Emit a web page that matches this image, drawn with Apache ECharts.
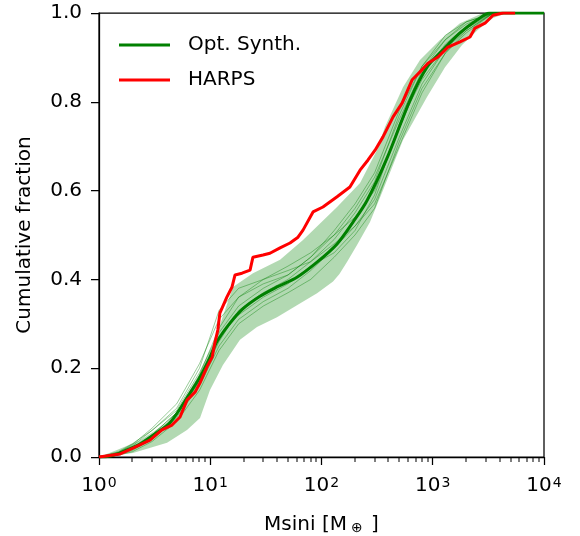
<!DOCTYPE html>
<html><head><meta charset="utf-8">
<script src="https://cdn.jsdelivr.net/npm/echarts@6/dist/echarts.min.js"></script>
<style>html,body{margin:0;padding:0;background:#fff}#c{width:580px;height:536px}</style>
</head><body><div id="c"></div>
<script>
// HARPS cumulative fraction [Msini (M_earth), fraction]
const harps = [[1,0],[1.55,0.007],[2.02,0.02],[2.87,0.038],[3.68,0.061],[4.53,0.072],[5.35,0.09],[6.18,0.128],[7.29,0.146],[8.09,0.167],[9.35,0.203],[10.4,0.225],[11.0,0.257],[11.7,0.286],[12.2,0.324],[14.1,0.36],[15.7,0.383],[16.7,0.41],[19.3,0.414],[22.8,0.421],[24.2,0.45],[29.8,0.455],[34.4,0.459],[42.4,0.471],[52.1,0.482],[61.5,0.495],[68.2,0.511],[83.9,0.552],[103,0.563],[138,0.586],[180,0.608],[222,0.646],[262,0.669],[303,0.691],[357,0.721],[440,0.766],[530,0.797],[651,0.849],[800,0.872],[906,0.887],[1115,0.901],[1371,0.923],[1758,0.935],[2163,0.946],[2399,0.966],[2951,0.977],[3481,0.995],[4280,1],[5500,1]];
// Opt. Synth. mean curve
const synthMean = [[1,0],[1.26,0.002],[1.71,0.014],[2.34,0.029],[3.19,0.052],[4.35,0.077],[6.58,0.144],[8.09,0.18],[9.95,0.225],[11.5,0.26],[15.1,0.302],[19.7,0.334],[28.0,0.362],[39.8,0.383],[60.2,0.405],[91.2,0.439],[138,0.48],[192,0.529],[256,0.577],[388,0.673],[625,0.804],[888,0.878],[1236,0.917],[1758,0.955],[2500,0.984],[3270,1],[10000,1]];
// band upper / lower bounds
const bandUpper = [[1,0],[1.45,0.016],[2.34,0.038],[4.09,0.077],[6.18,0.128],[8.09,0.189],[10.6,0.252],[16.0,0.383],[24.2,0.414],[42.4,0.444],[68.2,0.489],[138,0.563],[222,0.617],[315,0.691],[372,0.743],[540,0.833],[768,0.894],[1161,0.939],[1758,0.977],[2830,1],[10000,1]];
const bandLower = [[1,0],[2.02,0.009],[4.09,0.032],[6.18,0.061],[8.09,0.088],[9.95,0.151],[13.0,0.207],[18.5,0.264],[26.3,0.293],[39.8,0.315],[60.2,0.342],[91.2,0.369],[127,0.395],[145,0.412],[170,0.44],[208,0.477],[273,0.529],[357,0.601],[540,0.714],[888,0.811],[1289,0.878],[1833,0.928],[2552,0.962],[3481,0.989],[4649,1],[10000,1]];
// individual synthetic populations (thin lines), sampled at these masses
const thinMass = [1,1.5,2,3,5,8,12,18,30,50,80,130,200,300,500,800,1300,2000,3500,10000];
const thin1 = [0,0.01,0.028,0.065,0.12,0.21,0.31,0.36,0.39,0.41,0.45,0.50,0.56,0.63,0.76,0.87,0.94,0.98,1,1];
const thin2 = [0,0.005,0.015,0.04,0.09,0.16,0.25,0.31,0.35,0.38,0.42,0.47,0.52,0.58,0.72,0.84,0.92,0.96,1,1];
const thin3 = [0,0.01,0.025,0.06,0.11,0.2,0.33,0.38,0.40,0.42,0.44,0.49,0.55,0.62,0.77,0.88,0.95,0.98,1,1];
const thin4 = [0,0.006,0.02,0.045,0.095,0.17,0.26,0.33,0.37,0.40,0.44,0.48,0.52,0.57,0.70,0.82,0.91,0.96,1,1];
const thin5 = [0,0.012,0.03,0.06,0.105,0.19,0.28,0.34,0.38,0.41,0.45,0.51,0.57,0.64,0.78,0.88,0.94,0.975,1,1];
const thin6 = [0,0.004,0.012,0.035,0.08,0.15,0.24,0.30,0.34,0.37,0.40,0.45,0.50,0.56,0.71,0.83,0.91,0.955,1,1];
const thin7 = [0,0.008,0.022,0.05,0.1,0.185,0.29,0.36,0.40,0.43,0.46,0.50,0.54,0.60,0.74,0.86,0.93,0.97,1,1];
const thin8 = [0,0.007,0.018,0.05,0.1,0.175,0.27,0.32,0.36,0.39,0.43,0.46,0.51,0.59,0.75,0.85,0.92,0.965,1,1];
const yTicks = [0,0.2,0.4,0.6,0.8,1.0];
const minorTickValues = [2,3,4,5,6,7,8,9,20,30,40,50,60,70,80,90,200,300,400,500,600,700,800,900,2000,3000,4000,5000,6000,7000,8000,9000];

const FONT = 'DejaVu Sans';
const thinLines = [thin1,thin2,thin3,thin4,thin5,thin6,thin7,thin8].map((arr,i)=>({
  type:'line', name:'thin'+i, data: thinMass.map((m,j)=>[m,arr[j]]),
  showSymbol:false, symbol:'none', silent:true, z:3,
  lineStyle:{color:'rgba(0,128,0,0.4)', width:1}
}));

const chart = echarts.init(document.getElementById('c'), null, {renderer:'canvas'});
chart.setOption({
  animation:false,
  backgroundColor:'#fff',
  textStyle:{fontFamily:FONT},
  grid:{left:99, top:13, right:36, bottom:79, outerBoundsMode:'none', show:true, borderColor:'#000', borderWidth:1.25, backgroundColor:'transparent'},
  legend:{
    orient:'vertical', left:119, top:35, padding:0, itemWidth:51, itemHeight:3, itemGap:15,
    data:[{name:'Opt. Synth.', icon:'rect'},{name:'HARPS', icon:'rect'}],
    textStyle:{fontFamily:FONT, fontSize:20, color:'#000', lineHeight:20, padding:[0,0,0,13]}
  },
  xAxis:{
    type:'log', logBase:10, min:1, max:10000,
    splitLine:{show:false},
    axisLine:{show:true, lineStyle:{color:'#000', width:1.25}},
    axisTick:{show:true, inside:false, length:8, lineStyle:{color:'#000', width:1.25}},
    axisLabel:{
      margin:19, color:'#000',
      formatter: v => '{b|10}{s|' + Math.round(Math.log10(v)) + '}',
      rich:{
        b:{fontFamily:FONT, fontSize:20, lineHeight:20, verticalAlign:'bottom', color:'#000'},
        s:{fontFamily:FONT, fontSize:14, lineHeight:14, verticalAlign:'top', padding:[0,0,12,1], color:'#000'}
      }
    },
    name:'{a|Msini [M}{sub|⊕}{a| ]}', nameLocation:'middle', nameGap:45,
    nameTextStyle:{
      rich:{
        a:{fontFamily:FONT, fontSize:20, lineHeight:20, verticalAlign:'top', color:'#000'},
        sub:{fontFamily:FONT, fontSize:14, lineHeight:14, verticalAlign:'bottom', padding:[14,2,0,4], color:'#000'}
      }
    }
  },
  yAxis:{
    type:'value', min:0, max:1, interval:0.2,
    splitLine:{show:false},
    axisLine:{show:true, lineStyle:{color:'#000', width:1.25}},
    axisTick:{show:true, inside:false, length:8, lineStyle:{color:'#000', width:1.25}},
    axisLabel:{margin:17, color:'#000', fontFamily:FONT, fontSize:20, formatter:v=>v.toFixed(1)},
    name:'Cumulative fraction', nameLocation:'middle', nameGap:64,
    nameTextStyle:{fontFamily:FONT, fontSize:20, color:'#000'}
  },
  series:[
    {
      type:'custom', name:'band', silent:true, z:2, clip:true,
      data:[[1,0]],
      renderItem:(params, api)=>{
        const pts = bandUpper.map(p=>api.coord(p)).concat(bandLower.slice().reverse().map(p=>api.coord(p)));
        return {type:'polygon', shape:{points:pts}, style:{fill:'rgba(0,128,0,0.3)', stroke:'none'}};
      }
    },
    ...thinLines,
    {
      type:'line', name:'Opt. Synth.', data:synthMean, showSymbol:false, symbol:'none', smooth:0.3, z:5,
      lineStyle:{color:'#008000', width:3}, itemStyle:{color:'#008000'}
    },
    {
      type:'line', name:'HARPS', data:harps, showSymbol:false, symbol:'none', z:6,
      lineStyle:{color:'#ff0000', width:3}, itemStyle:{color:'#ff0000'}
    }
  ]
});
// minor ticks of the log axis, placed through the axis scale
const minorEls = minorTickValues.map(v=>{
  const p = chart.convertToPixel('grid', [v, 0]);
  return {type:'rect', silent:true, z:100, shape:{x:Math.round(p[0])-0.5, y:p[1], width:1, height:5}, style:{fill:'#000'}};
});
chart.setOption({graphic:minorEls});
</script></body></html>
